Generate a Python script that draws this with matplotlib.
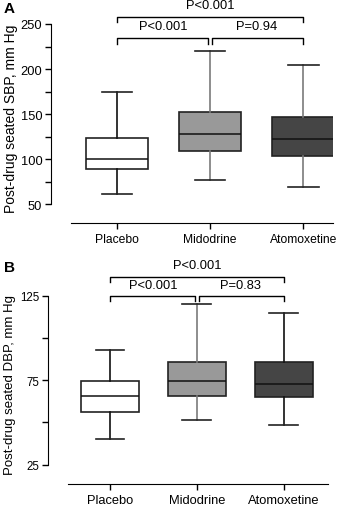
import matplotlib
matplotlib.use("Agg")
import matplotlib.pyplot as plt

plt.rcParams['font.family'] = ['Liberation Sans', 'DejaVu Sans']

GROUPS = ["Placebo", "Midodrine", "Atomoxetine"]

# whisker low, Q1, median, Q3, whisker high
SBP_LOW = [61, 77, 69]
SBP_Q1 = [89, 109, 103]
SBP_MED = [100, 128, 122.5]
SBP_Q3 = [123, 152, 146.5]
SBP_HIGH = [174, 220.5, 204]
SBP_P = ["P<0.001", "P=0.94", "P<0.001"]

DBP_LOW = [40.5, 51.5, 48.5]
DBP_Q1 = [56, 65.8, 64.8]
DBP_MED = [65.8, 74.3, 72.7]
DBP_Q3 = [74.5, 85.5, 85.5]
DBP_HIGH = [92.8, 120, 115]
DBP_P = ["P<0.001", "P=0.83", "P<0.001"]

FILLS = ["white", "#999999", "#454545"]


def draw_panel(ax, low, q1, med, q3, high, whisk_cols, ylim, ybounds, major, minor,
               xbounds, xlim, brackets, pvals, ylabel, fs_tick, fs_x, fs_lab, label_y):
    stats = []
    for i in range(3):
        stats.append(dict(whislo=low[i], q1=q1[i], med=med[i], q3=q3[i],
                          whishi=high[i], fliers=[]))
    bp = ax.bxp(stats, positions=[1, 2, 3], widths=0.67, patch_artist=True,
                showfliers=False)
    for i in range(3):
        bp['boxes'][i].set(facecolor=FILLS[i], edgecolor="#222222", linewidth=1.2)
        bp['medians'][i].set(color="#111111", linewidth=1.1)
        for w in bp['whiskers'][2 * i:2 * i + 2]:
            w.set(color=whisk_cols[i], linewidth=1.2)
        for c in bp['caps'][2 * i:2 * i + 2]:
            c.set(color="#222222", linewidth=1.2, xdata=[i + 1 - 0.165, i + 1 + 0.165])

    ax.set_ylim(*ylim)
    ax.set_xlim(*xlim)
    for s in ["top", "right"]:
        ax.spines[s].set_visible(False)
    ax.spines['left'].set_bounds(*ybounds)
    ax.spines['bottom'].set_bounds(*xbounds)
    ax.set_yticks(major)
    ax.set_yticks(minor, minor=True)
    ax.tick_params(axis='y', which='both', length=4, width=1, labelsize=fs_tick, pad=2)
    ax.set_xticks([1, 2, 3])
    ax.set_xticklabels(GROUPS, fontsize=fs_x)
    ax.tick_params(axis='x', length=4, width=1, pad=3)
    ax.set_ylabel(ylabel, fontsize=fs_lab)
    ax.yaxis.set_label_coords(-0.115, label_y)

    # significance brackets
    lo_y, lo_leg, hi_y, hi_leg = brackets
    kw = dict(color="black", linewidth=1.0, clip_on=False)
    ax.plot([1, 1, 1.98, 1.98], [lo_leg, lo_y, lo_y, lo_leg], **kw)
    ax.plot([2.02, 2.02, 3, 3], [lo_leg, lo_y, lo_y, lo_leg], **kw)
    ax.plot([1, 1, 3, 3], [hi_leg, hi_y, hi_y, hi_leg], **kw)
    off = (ylim[1] - ylim[0]) * 0.03
    ax.text(1.5, lo_y + off, pvals[0], ha="center", va="bottom", fontsize=9.3)
    ax.text(2.5, lo_y + off, pvals[1], ha="center", va="bottom", fontsize=9.3)
    ax.text(2.0, hi_y + off, pvals[2], ha="center", va="bottom", fontsize=9.3)


fig = plt.figure(figsize=(3.54, 5.06), dpi=100)

axA = fig.add_axes([50.7 / 354, 1 - 224 / 506, (333 - 50.7) / 354, (224 - 25) / 506])
draw_panel(axA, SBP_LOW, SBP_Q1, SBP_MED, SBP_Q3, SBP_HIGH,
           ["#111111", "#7a7a7a", "#7a7a7a"],
           (28.9, 250), (50, 250), [50, 100, 150, 200, 250], [75, 125, 175, 225],
           (0.505, 3.32), (0.287, 3.32), (234, 228, 257.5, 252), SBP_P,
           "Post-drug seated SBP, mm Hg", 9.3, 8.7, 10, 0.53)

axB = fig.add_axes([48 / 354, 1 - 485 / 506, (328 - 48) / 354, (485 - 296.7) / 506])
draw_panel(axB, DBP_LOW, DBP_Q1, DBP_MED, DBP_Q3, DBP_HIGH,
           ["#111111", "#7a7a7a", "#111111"],
           (13.6, 125), (25, 125), [25, 75, 125], [50, 100],
           (0.517, 3.51), (0.287, 3.51), (124.6, 121.6, 136.2, 133.4), DBP_P,
           "Post-drug seated DBP, mm Hg", 8.3, 9.3, 9.5, 0.531)

fig.text(4 / 354, 1 - 9 / 506, "A", fontsize=11, fontweight="bold", va="center")
fig.text(4 / 354, 1 - 268 / 506, "B", fontsize=11, fontweight="bold", va="center")

fig.savefig("out.png", dpi=100)
